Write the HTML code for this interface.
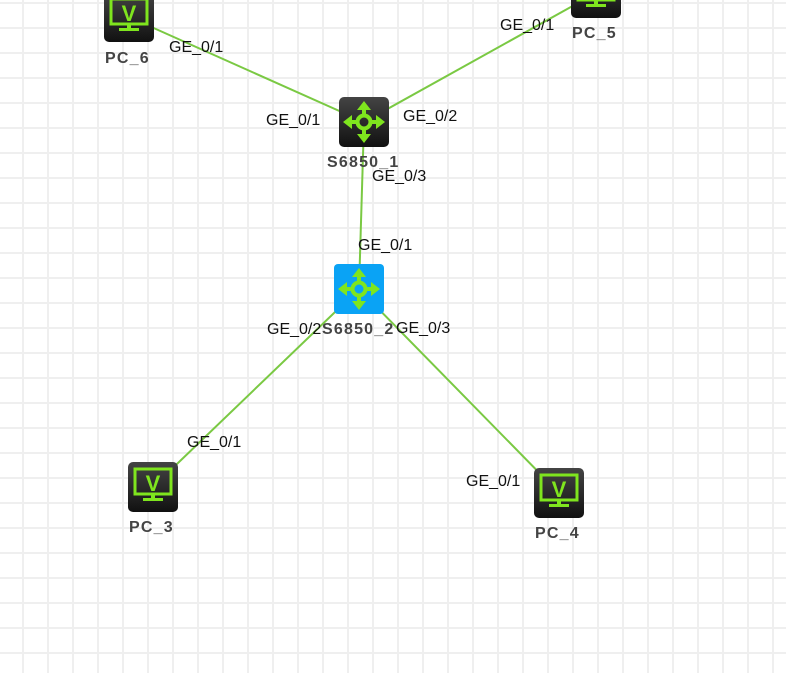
<!DOCTYPE html>
<html><head><meta charset="utf-8"><style>
html,body{margin:0;padding:0}
body{width:786px;height:673px;overflow:hidden;position:relative;background:#fff;
background-image:linear-gradient(to right,#efefef 2px,transparent 2px),linear-gradient(to bottom,#efefef 2px,transparent 2px);
background-size:25px 25px;background-position:22px 2px;font-family:"Liberation Sans",sans-serif}
.t{position:absolute;font-size:16px;color:#111;white-space:nowrap}
.n{position:absolute;font-size:16px;font-weight:bold;color:#444;white-space:nowrap;letter-spacing:1.2px}
</style></head><body>
<svg width="786" height="673" style="position:absolute;left:0;top:0">
<defs>
<linearGradient id="dk" x1="0" y1="0" x2="0" y2="1"><stop offset="0" stop-color="#444"/><stop offset="1" stop-color="#111"/></linearGradient>
<g id="pc"><rect x="0" y="0" width="50" height="50" rx="5" fill="url(#dk)"/>
<rect x="7" y="7" width="36" height="25" fill="none" stroke="#7fe51e" stroke-width="3"/>
<text x="25" y="29" text-anchor="middle" font-family="Liberation Sans" font-weight="bold" font-size="22" fill="#7fe51e">V</text>
<rect x="23" y="32" width="4" height="4" fill="#7fe51e"/><rect x="15" y="36" width="20" height="3" fill="#7fe51e"/></g>
<g id="arr" fill="#7fe51e" stroke="#7fe51e">
<circle cx="25" cy="25" r="6.5" fill="none" stroke-width="4"/>
<line x1="25" y1="9" x2="25" y2="18" stroke-width="4"/><line x1="25" y1="32" x2="25" y2="41" stroke-width="4"/>
<line x1="9" y1="25" x2="18" y2="25" stroke-width="4"/><line x1="32" y1="25" x2="41" y2="25" stroke-width="4"/>
<polygon points="25,4 18,13 32,13" stroke="none"/><polygon points="25,46 18,37 32,37" stroke="none"/>
<polygon points="4,25 13,18 13,32" stroke="none"/><polygon points="46,25 37,18 37,32" stroke="none"/></g>
</defs>
<g stroke="#7ac943" stroke-width="2">
<line x1="129" y1="17" x2="364" y2="122"/><line x1="596" y1="-7" x2="364" y2="122"/>
<line x1="364" y1="122" x2="359" y2="289"/><line x1="359" y1="289" x2="153" y2="487"/><line x1="359" y1="289" x2="559" y2="493"/>
</g>
<use href="#pc" x="104" y="-8"/><use href="#pc" x="571" y="-32"/>
<use href="#pc" x="128" y="462"/><use href="#pc" x="534" y="468"/>
<rect x="339" y="97" width="50" height="50" rx="5" fill="url(#dk)"/><use href="#arr" x="339" y="97"/>
<rect x="334" y="264" width="50" height="50" rx="4" fill="#0aa3f5"/><use href="#arr" x="334" y="264"/>
</svg>
<div class="n" style="left:105px;top:50px">PC_6</div>
<div class="n" style="left:572px;top:25px">PC_5</div>
<div class="n" style="left:327px;top:154px">S6850_1</div>
<div class="n" style="left:322px;top:321px">S6850_2</div>
<div class="n" style="left:129px;top:519px">PC_3</div>
<div class="n" style="left:535px;top:525px">PC_4</div>
<div class="t" style="left:169px;top:39px">GE_0/1</div>
<div class="t" style="left:500px;top:17px">GE_0/1</div>
<div class="t" style="left:266px;top:112px">GE_0/1</div>
<div class="t" style="left:403px;top:108px">GE_0/2</div>
<div class="t" style="left:372px;top:168px">GE_0/3</div>
<div class="t" style="left:358px;top:237px">GE_0/1</div>
<div class="t" style="left:267px;top:321px">GE_0/2</div>
<div class="t" style="left:396px;top:320px">GE_0/3</div>
<div class="t" style="left:187px;top:434px">GE_0/1</div>
<div class="t" style="left:466px;top:473px">GE_0/1</div>
</body></html>
